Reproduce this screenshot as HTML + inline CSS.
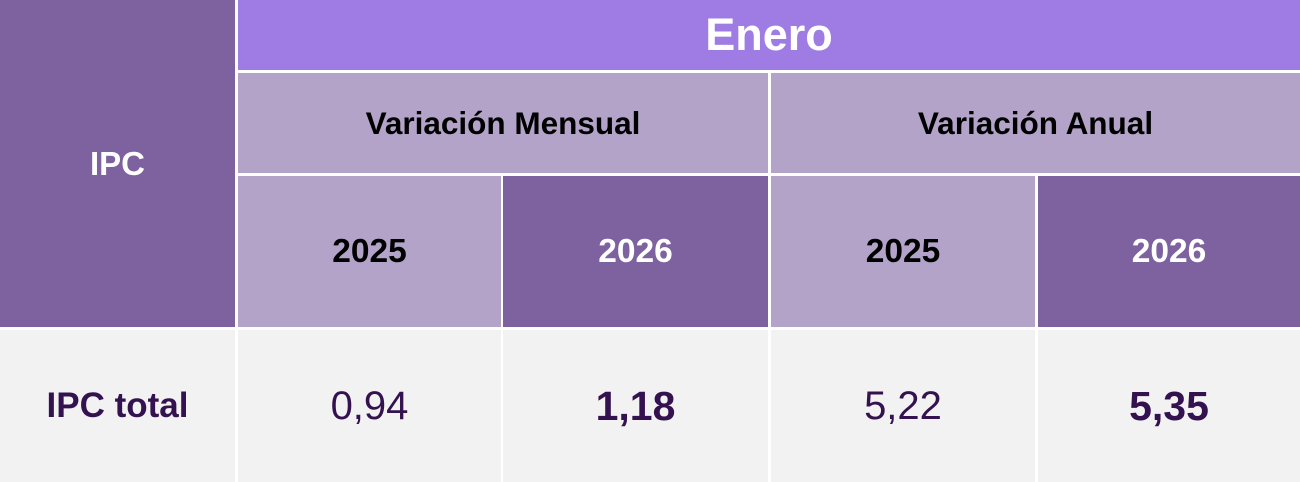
<!DOCTYPE html>
<html><head><meta charset="utf-8"><style>
body{margin:0;width:1300px;height:482px;background:#fff;overflow:hidden;font-family:"Liberation Sans",sans-serif}
.c{position:absolute;display:flex;align-items:center;justify-content:center;font-weight:bold}
.d{background:#7e62a0;color:#fff}
.l{background:#b3a3c8;color:#000}
.g{background:#f2f2f2;color:#34124f}
</style></head><body>
<div class="c d" style="left:0;top:0;width:235px;height:327px;font-size:33px">IPC</div>
<div class="c" style="left:238px;top:0;width:1062px;height:70px;background:#9f7ce3;color:#fff;font-size:45px">Enero</div>
<div class="c l" style="left:238px;top:73px;width:530px;height:100px;font-size:31.5px">Variación Mensual</div>
<div class="c l" style="left:771px;top:73px;width:529px;height:100px;font-size:31.5px">Variación Anual</div>
<div class="c l" style="left:238px;top:176px;width:263px;height:151px;font-size:33.5px">2025</div>
<div class="c d" style="left:503px;top:176px;width:265px;height:151px;font-size:33.5px">2026</div>
<div class="c l" style="left:771px;top:176px;width:264px;height:151px;font-size:33.5px">2025</div>
<div class="c d" style="left:1038px;top:176px;width:262px;height:151px;font-size:33.5px">2026</div>
<div class="c g" style="left:0;top:330px;width:235px;height:152px;font-size:35px">IPC total</div>
<div class="c g" style="left:238px;top:330px;width:263px;height:152px;font-size:40px;font-weight:normal">0,94</div>
<div class="c g" style="left:503px;top:330px;width:265px;height:152px;font-size:41px">1,18</div>
<div class="c g" style="left:771px;top:330px;width:264px;height:152px;font-size:40px;font-weight:normal">5,22</div>
<div class="c g" style="left:1038px;top:330px;width:262px;height:152px;font-size:41px">5,35</div>
</body></html>
